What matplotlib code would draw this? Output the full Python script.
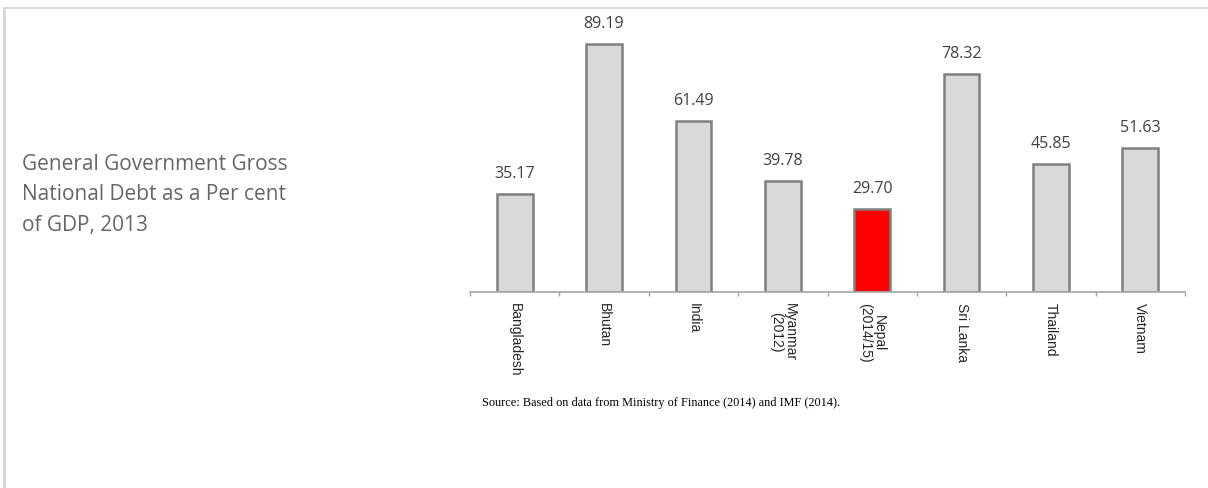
import matplotlib
matplotlib.use("Agg")
import matplotlib.pyplot as plt
from matplotlib.patches import Rectangle

countries = ["Bangladesh", "Bhutan", "India", "Myanmar\n(2012)", "Nepal\n(2014/15)",
             "Sri Lanka", "Thailand", "Vietnam"]
debt_pct = [35.17, 89.19, 61.49, 39.78, 29.70, 78.32, 45.85, 51.63]
highlight = "Nepal\n(2014/15)"

title = "General Government Gross\nNational Debt as a Per cent\nof GDP, 2013"
source = "Source: Based on data from Ministry of Finance (2014) and IMF (2014)."

fig = plt.figure(figsize=(12.08, 4.88), dpi=100)

# panel frame: grey line on top and left only
fig.add_artist(Rectangle((3 / 1208, 0), 3 / 1208, 481 / 488, transform=fig.transFigure,
                         facecolor="#d9d9d9", edgecolor="none"))
fig.add_artist(Rectangle((3 / 1208, 479 / 488), 1, 2 / 488, transform=fig.transFigure,
                         facecolor="#d9d9d9", edgecolor="none"))

fig.text(22 / 1208, (488 - 195) / 488, title, family="Open Sans",
         fontsize=15, color="#666666", va="center", ha="left", linespacing=1.6)

ax = fig.add_axes([470 / 1208, 196 / 488, 715 / 1208, 272 / 488])
x = range(len(countries))
colors = ["#ff0000" if c == highlight else "#d9d9d9" for c in countries]
bars = ax.bar(x, debt_pct, width=0.4, color=colors, edgecolor="#7f7f7f", linewidth=1.8)
for b, v in zip(bars, debt_pct):
    ax.annotate(f"{v:.2f}", (b.get_x() + b.get_width() / 2, v), xytext=(0, 14.5),
                textcoords="offset points", ha="center", va="center",
                family="Open Sans", fontsize=11.5, color="#404040")

ax.set_xlim(-0.5, len(countries) - 0.5)
ax.set_ylim(0, 97.8)
for s in ["top", "right", "left"]:
    ax.spines[s].set_visible(False)
ax.spines["bottom"].set_color("#a6a6a6")
ax.spines["bottom"].set_linewidth(1.2)
ax.set_yticks([])
ax.set_xticks([i - 0.5 for i in range(len(countries) + 1)], minor=False)
ax.set_xticklabels([])
ax.tick_params(axis="x", length=3, color="#a6a6a6", width=1)
ax.set_xticks(list(x), minor=True)
ax.set_xticklabels(countries, minor=True, rotation=270, family="Liberation Sans",
                   fontsize=10, color="#262626", va="top", ha="center", linespacing=1.0)
ax.tick_params(axis="x", which="minor", length=0, pad=8)

fig.text(661 / 1208, (488 - 403) / 488, source, family="Liberation Serif", fontsize=8.8,
         color="#000000", ha="center", va="center")

fig.savefig("out.png", dpi=100)
